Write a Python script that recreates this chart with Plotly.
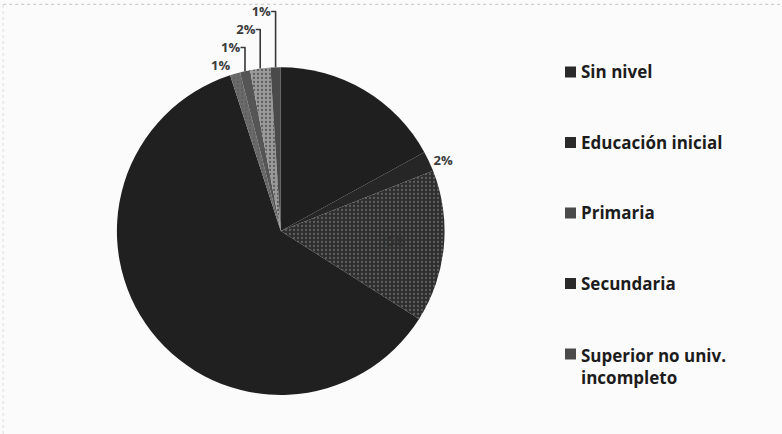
import plotly.graph_objects as go

# nivel educativo (porcentajes, sentido horario desde las 12)
categorias = ['Sin nivel', 'Educación inicial', 'Primaria', 'Secundaria',
              'Superior no univ.<br>incompleto', 'Superior no univ. completo',
              'Superior univ. incompleto', 'Superior univ. completo']
valores = [17, 2, 15, 61, 1, 1, 2, 1]
en_leyenda = ['Sin nivel', 'Educación inicial', 'Primaria', 'Secundaria',
              'Superior no univ.<br>incompleto']

colores = ['#1f1f1f', '#262626', '#2e2e2e', '#202020',
           '#6a6a6a', '#555555', '#9a9a9a', '#4a4a4a']
patrones = ['', '', '.', '', '.', '', '.', '']
pos_texto = ['inside' if v > 5 else 'outside' for v in valores]

fig = go.Figure()
fig.add_trace(go.Pie(
    labels=categorias, values=valores, sort=False,
    direction='clockwise', rotation=0, automargin=False,
    marker=dict(colors=colores, line=dict(width=0),
                pattern=dict(shape=patrones, bgcolor=colores, fgcolor='#5e5e5e',
                             size=4, solidity=0.25)),
    texttemplate='%{percent:.0%}', textposition=pos_texto,
    insidetextfont=dict(color=colores),
    outsidetextfont=dict(color='#3a3a3a', size=13, family='Open Sans', weight='bold'),
    showlegend=False, hoverinfo='label+percent',
    domain=dict(x=[0.139, 0.579], y=[0.09, 0.845]),
))

# leyenda dibujada a mano (separacion grande como en el original)
y0 = 1 - 72 / 434
paso = 70.5 / 434
for i, nombre in enumerate(en_leyenda):
    y = y0 - i * paso
    col = '#2a2a2a' if patrones[i] == '' else '#4a4a4a'
    fig.add_shape(type='rect', xref='paper', yref='paper',
                  x0=565 / 782, x1=576 / 782, y0=y - 5.5 / 434, y1=y + 5.5 / 434,
                  fillcolor=col, line=dict(width=0))
    fig.add_annotation(x=579 / 782, y=y, xref='paper', yref='paper', text='<b>' + nombre + '</b>',
                       showarrow=False, xanchor='left',
                       yanchor='top' if '<br>' in nombre else 'middle',
                       yshift=12 if '<br>' in nombre else 0,
                       align='left', font=dict(family='Open Sans', size=17, color='#1c1c1c'))

# borde del recuadro escaneado
fig.add_shape(type='line', xref='paper', yref='paper', x0=0.004, x1=0.998, y0=0.99, y1=0.99,
              line=dict(color='#c4c4c4', width=1, dash='dot'))
fig.add_shape(type='line', xref='paper', yref='paper', x0=0.004, x1=0.004, y0=0, y1=0.99,
              line=dict(color='#dddddd', width=1, dash='dot'))

fig.update_layout(width=782, height=434, margin=dict(l=0, r=0, t=0, b=0, autoexpand=False),
                  paper_bgcolor='#fbfbfb', plot_bgcolor='#fbfbfb',
                  font=dict(family='Open Sans'))
fig.write_html('out.html', config={'displayModeBar': False},
               post_script="document.body.style.margin='0px';")
